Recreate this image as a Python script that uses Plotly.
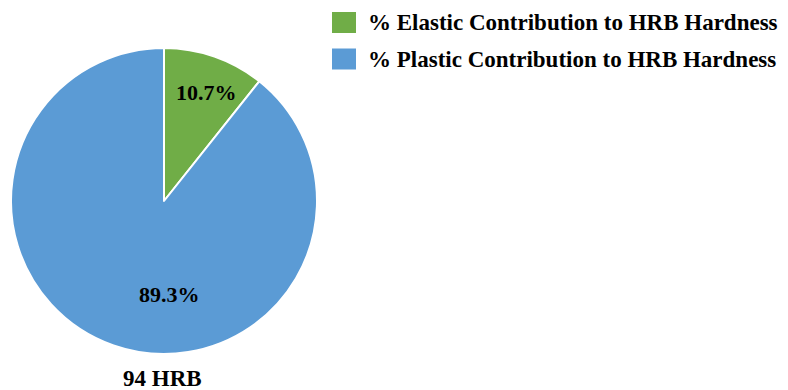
import math
import plotly.graph_objects as go

# Share of HRB hardness coming from elastic vs plastic response
labels = ["% Elastic Contribution to HRB Hardness",
          "% Plastic Contribution to HRB Hardness"]
values = [10.7, 89.3]
colors = ["#70AD47", "#5B9BD5"]
sample_label = "94 HRB"

W, H = 788, 390
cx, cy, R = 164, 201, 153  # pie centre / radius in pixels
font_family = "Liberation Serif"

fig = go.Figure(go.Pie(
    labels=labels,
    values=values,
    marker=dict(colors=colors, line=dict(color="white", width=2)),
    sort=False,
    direction="clockwise",
    rotation=0,
    textinfo="none",
    hoverinfo="label+percent",
    showlegend=False,
    domain=dict(x=[(cx - R) / W, (cx + R) / W],
                y=[1 - (cy + R) / H, 1 - (cy - R) / H]),
))

annotations = []

# Percentage labels placed inside each slice
label_pos = [(0.76, 21.5), (0.61, 176.5)]  # (radius fraction, angle clockwise from top)
for v, (rf, ang) in zip(values, label_pos):
    a = math.radians(ang)
    px = cx + rf * R * math.sin(a)
    py = cy - rf * R * math.cos(a)
    annotations.append(dict(
        x=px / W, y=1 - py / H, xref="paper", yref="paper",
        text=f"<b>{v:.1f}%</b>", showarrow=False,
        font=dict(family=font_family, size=22, color="black"),
        xanchor="center", yanchor="middle"))

# Sample caption under the pie
annotations.append(dict(
    x=162 / W, y=1 - 378 / H, xref="paper", yref="paper",
    text=f"<b>{sample_label}</b>", showarrow=False,
    font=dict(family=font_family, size=23, color="black"),
    xanchor="center", yanchor="middle"))

# Legend drawn as coloured boxes with bold serif text
shapes = []
legend_rows = [22.5, 59.0]
for lab, col, ym in zip(labels, colors, legend_rows):
    shapes.append(dict(
        type="rect", xref="paper", yref="paper",
        x0=332 / W, x1=356 / W,
        y0=1 - (ym + 10.5) / H, y1=1 - (ym - 10.5) / H,
        fillcolor=col, line=dict(width=0)))
    annotations.append(dict(
        x=366 / W, y=1 - ym / H, xref="paper", yref="paper",
        text=f"<b>{lab}</b>", showarrow=False,
        font=dict(family=font_family, size=23, color="black"),
        xanchor="left", yanchor="middle"))

fig.update_layout(
    width=W, height=H,
    margin=dict(l=0, r=0, t=0, b=0),
    paper_bgcolor="white",
    plot_bgcolor="white",
    font=dict(family=font_family),
    annotations=annotations,
    shapes=shapes,
)

fig.write_html("out.html")
